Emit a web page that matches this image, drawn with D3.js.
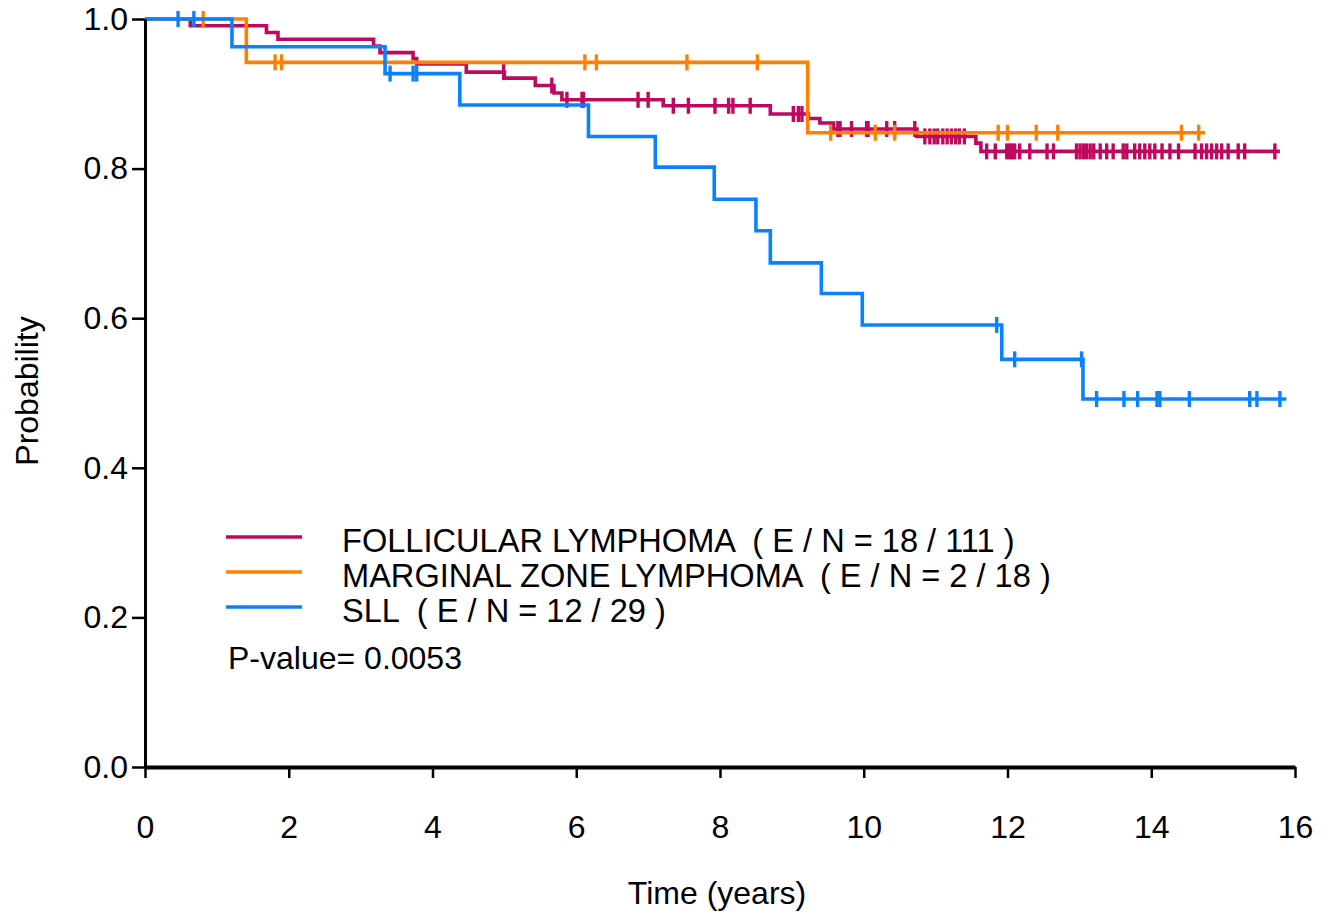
<!DOCTYPE html>
<html>
<head>
<meta charset="utf-8">
<script src="https://cdn.jsdelivr.net/npm/d3@7"></script>
<style>
  html, body { margin: 0; padding: 0; background: #fff; }
  svg { display: block; }
  text { font-family: "Liberation Sans", Arial, sans-serif; }
</style>
</head>
<body>
<svg id="chart" width="1331" height="918"></svg>
<script>
// ---- Data ----
const xTicks = [0, 2, 4, 6, 8, 10, 12, 14, 16];
const yTicks = [0.0, 0.2, 0.4, 0.6, 0.8, 1.0];

const follicularTimes = [0, 0.63, 1.69, 1.85, 3.18, 3.27, 3.73, 3.78, 4.47, 5.00, 5.43, 5.69, 5.80, 7.21, 8.70, 9.23, 9.39, 9.58, 10.74, 11.56, 11.63];
const follicularSurv  = [1, 0.991, 0.982, 0.973, 0.964, 0.955, 0.947, 0.940, 0.929, 0.921, 0.911, 0.901, 0.892, 0.884, 0.873, 0.867, 0.861, 0.853, 0.843, 0.834, 0.823];
const follicularEnd = 15.79;
const follicularCensor = [4.99, 5.66, 5.87, 6.08, 6.10, 6.86, 7.00, 7.35, 7.56, 7.93, 8.12, 8.18, 8.42, 9.02, 9.09, 9.14, 9.64,
  9.67, 9.83, 10.04, 10.06, 10.32, 10.43, 10.71, 10.85, 10.92, 10.98, 11.03, 11.10, 11.16, 11.22, 11.28, 11.33, 11.40,
  11.71, 11.83, 11.99, 12.03, 12.06, 12.10, 12.17, 12.31, 12.55, 12.64, 12.96, 13.01, 13.06, 13.10, 13.15, 13.20, 13.29, 13.38, 13.47, 13.61,
  13.66, 13.77, 13.84, 13.91, 13.98, 14.05, 14.15, 14.26, 14.38, 14.61, 14.70, 14.77, 14.84, 14.91, 14.98, 15.07, 15.21, 15.30, 15.72];

const marginalTimes = [0, 1.41, 9.22];
const marginalSurv  = [1, 0.942, 0.848];
const marginalEnd = 14.75;
const marginalCensor = [0.81, 1.81, 1.90, 6.12, 6.28, 7.54, 8.52, 9.54, 10.16, 10.43, 11.87, 12.00, 12.40, 12.70, 14.42, 14.66];

const sllTimes = [0, 1.21, 3.34, 4.38, 6.17, 7.10, 7.92, 8.50, 8.70, 9.41, 9.98, 11.92, 13.05];
const sllSurv  = [1, 0.963, 0.927, 0.885, 0.843, 0.802, 0.759, 0.717, 0.674, 0.633, 0.591, 0.545, 0.492];
const sllEnd = 15.88;
const sllCensor = [0.46, 0.68, 3.41, 3.73, 3.78, 11.85, 12.10, 13.03, 13.24, 13.62, 13.81, 14.08, 14.12, 14.53, 15.37, 15.47, 15.79];

const seriesNames = ["FOLLICULAR LYMPHOMA  ( E / N = 18 / 111 )", "MARGINAL ZONE LYMPHOMA  ( E / N = 2 / 18 )", "SLL  ( E / N = 12 / 29 )"];
const seriesColors = ["#be0a5e", "#ff8000", "#0a82ff"];
const pValueText = "P-value= 0.0053";

// ---- Layout ----
const svg = d3.select("#chart");
const x = d3.scaleLinear().domain([0, 16]).range([145, 1295]);
const y = d3.scaleLinear().domain([0, 1]).range([767, 19]);

const series = [
  { times: follicularTimes, surv: follicularSurv, end: follicularEnd, censor: follicularCensor },
  { times: marginalTimes, surv: marginalSurv, end: marginalEnd, censor: marginalCensor },
  { times: sllTimes, surv: sllSurv, end: sllEnd, censor: sllCensor }
];

function survAt(s, t) {
  let v = s.surv[0];
  for (let i = 0; i < s.times.length; i++) { if (s.times[i] <= t) v = s.surv[i]; }
  return v;
}

const line = d3.line().x(d => x(d[0])).y(d => y(d[1])).curve(d3.curveStepAfter);

series.forEach((s, i) => {
  const pts = s.times.map((t, j) => [t, s.surv[j]]);
  pts.push([s.end, s.surv[s.surv.length - 1]]);
  const g = svg.append("g");
  g.append("path").attr("d", line(pts)).attr("fill", "none")
    .attr("stroke", seriesColors[i]).attr("stroke-width", 3.6);
  g.selectAll("line.c").data(s.censor).enter().append("line")
    .attr("x1", d => x(d)).attr("x2", d => x(d))
    .attr("y1", d => y(survAt(s, d)) - 8).attr("y2", d => y(survAt(s, d)) + 8)
    .attr("stroke", seriesColors[i]).attr("stroke-width", 3.4);
});

// ---- Axes ----
const yAxis = svg.append("g").attr("transform", "translate(145,0)")
  .call(d3.axisLeft(y).tickValues(yTicks).tickFormat(d3.format(".1f")).tickSize(13).tickSizeOuter(0).tickPadding(4));
const xAxis = svg.append("g").attr("transform", "translate(0,767)")
  .call(d3.axisBottom(x).tickValues(xTicks).tickFormat(d3.format("d")).tickSize(11).tickSizeOuter(0).tickPadding(37));

[yAxis, xAxis].forEach(a => {
  a.select(".domain").attr("stroke", "#000").attr("stroke-width", 3);
  a.selectAll(".tick line").attr("stroke", "#000").attr("stroke-width", 2.5);
  a.selectAll(".tick text").attr("fill", "#000").style("font-size", "32px")
    .style("font-family", '"Liberation Sans", Arial, sans-serif');
});
xAxis.select(".domain").attr("stroke-width", 4);

svg.append("text").attr("x", 717).attr("y", 904).attr("text-anchor", "middle")
  .style("font-size", "32px").text("Time (years)");
svg.append("text").attr("transform", "translate(38,391) rotate(-90)").attr("text-anchor", "middle")
  .style("font-size", "32px").text("Probability");

// ---- Legend ----
const legendY = [537, 572, 607];
seriesNames.forEach((name, i) => {
  svg.append("line").attr("x1", 226).attr("x2", 302).attr("y1", legendY[i]).attr("y2", legendY[i])
    .attr("stroke", seriesColors[i]).attr("stroke-width", 3.5);
  svg.append("text").attr("x", 342).attr("y", legendY[i] + 15)
    .style("font-size", "32.6px").style("white-space", "pre").attr("xml:space", "preserve").text(name);
});
svg.append("text").attr("x", 228).attr("y", 669).style("font-size", "32px").text(pValueText);
</script>
</body>
</html>
